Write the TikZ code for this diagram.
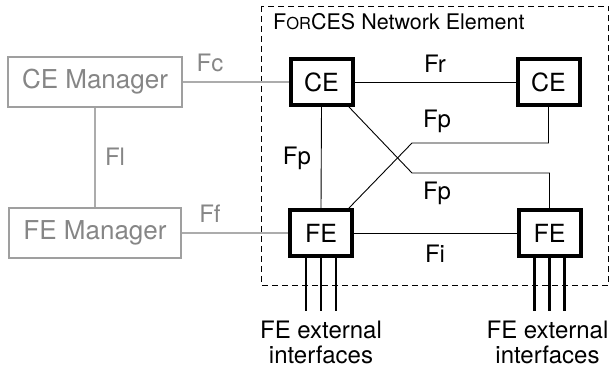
\documentclass[tikz,border=0pt]{standalone}
\usepackage{fontspec}
\setmainfont{TeX Gyre Heros}
\begin{document}
\begin{tikzpicture}[x=1pt,y=-1pt,
  lbl/.style={font=\fontsize{24}{29}\selectfont, inner sep=0pt, anchor=base},
  glbl/.style={lbl, text=gray!95},
  elem/.style={draw=black, line width=4pt, fill=white, minimum width=62pt, minimum height=46pt, inner sep=0pt, font=\fontsize{25}{30}\selectfont},
  mgr/.style={draw=gray!75, line width=1.5pt, fill=white, inner sep=0pt, minimum height=50pt, text=gray!95, font=\fontsize{26}{31}\selectfont},
  thin/.style={draw=black, line width=0.9pt},
  gline/.style={draw=gray!65, line width=1.4pt},
  ifc/.style={draw=black, line width=2.6pt}
]
\useasboundingbox (0,0) rectangle (610,371);
% network element boundary
\draw[line width=0.9pt, dash pattern=on 6pt off 4pt] (261,6) rectangle (608.5,285);
\node[anchor=base west, inner sep=0pt, font=\fontsize{21.5}{26}\selectfont] (title) at (273,30) {F{\fontsize{16.5}{20}\selectfont OR}CES Network Element};

% managers
\node[mgr, minimum width=174pt] (cem) at (95,82) {CE Manager};
\node[mgr, minimum width=172pt] (fem) at (95,233) {FE Manager};

% elements
\node[elem] (ce1) at (321.5,82) {CE};
\node[elem] (ce2) at (548.5,82) {CE};
\node[elem] (fe1) at (321,233) {FE};
\node[elem] (fe2) at (549.5,233) {FE};

\coordinate (b1) at (412,173);
\coordinate (b2) at (412,143);

% gray connectors
\draw[gline] (cem.east) -- (ce1.west);
\draw[gline] (fem.east) -- (fe1.west);
\draw[gline] (cem.south) -- (fem.north);

% black connectors
\draw[thin] (ce1.east) -- (ce2.west);
\draw[thin] (fe1.east) -- (fe2.west);
\draw[thin] (ce1.south) -- (fe1.north);
\draw[thin] ([xshift=-5.5pt]ce1.south east) -- (b1) -| (fe2.north);
\draw[thin] (ce2.south) |- (b2) -- ([xshift=-5pt]fe1.north east);

% external interfaces
\coordinate (e1) at (321,311);
\coordinate (e2) at (549.5,311);
\foreach \d in {-15,0,15} {
  \draw[ifc] ([xshift=\d pt]fe1.south) -- ([xshift=\d pt]e1);
  \draw[ifc] ([xshift=\d pt]fe2.south) -- ([xshift=\d pt]e2);
}

% labels
\node[glbl] (lfc) at (210,72) {Fc};
\node[glbl] (lff) at (210,223) {Ff};
\node[glbl] (lfl) at (115,166) {Fl};
\node[lbl] (lfr) at (435,73) {Fr};
\node[lbl] (lfp1) at (437,128) {Fp};
\node[lbl] (lfp2) at (297,165) {Fp};
\node[lbl] (lfp3) at (437,200) {Fp};
\node[lbl] (lfi) at (435,262) {Fi};
\node[lbl] (x1a) at (321,338) {FE external};
\node[lbl] (x1b) at (321,363) {interfaces};
\node[lbl] (x2a) at (547.5,338) {FE external};
\node[lbl] (x2b) at (547.5,363) {interfaces};
\end{tikzpicture}
\end{document}
